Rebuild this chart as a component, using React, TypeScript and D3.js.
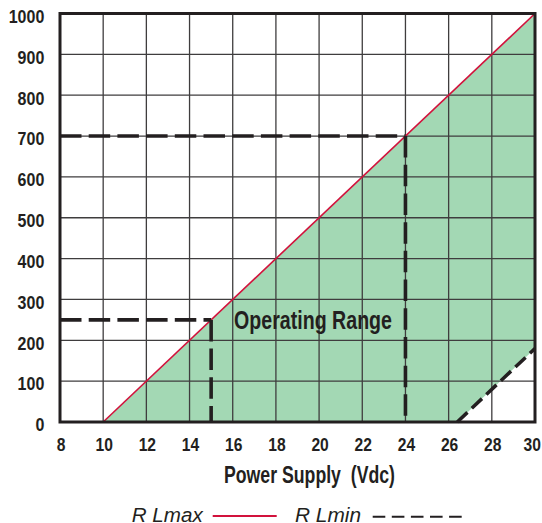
import React from "react";
import * as d3 from "d3";

const xTicks = [8, 10, 12, 14, 16, 18, 20, 22, 24, 26, 28, 30];
const yTicks = [0, 100, 200, 300, 400, 500, 600, 700, 800, 900, 1000];
const rlMax = [
  { v: 10, r: 0 },
  { v: 30, r: 1000 },
];
const rlMin = [
  { v: 26.4, r: 0 },
  { v: 30, r: 180 },
];
const operatingPoints = [
  { v: 15, r: 250 },
  { v: 24, r: 700 },
];
const xTitle = "Power Supply  (Vdc)";
const regionLabel = "Operating Range";
const legendLabels = ["R Lmax", "R Lmin"];

const W = 542;
const H = 523;
const L = 60,
  R = 535,
  T = 13.5,
  B = 422;
const INK = "#231f20";
const RED = "#d2123c";
const GREEN = "#a3d8b4";

export default function App() {
  const x = d3.scaleLinear().domain([8, 30]).range([L, R]);
  const y = d3.scaleLinear().domain([0, 1000]).range([B, T]);

  const poly = [
    [x(rlMax[0].v), y(rlMax[0].r)],
    [x(rlMax[1].v), y(rlMax[1].r)],
    [x(rlMin[1].v), y(rlMin[1].r)],
    [x(rlMin[0].v), y(rlMin[0].r)],
  ];
  const line = d3
    .line<{ v: number; r: number }>()
    .x((d) => x(d.v))
    .y((d) => y(d.r));

  const font = "'Liberation Sans', Arial, Helvetica, sans-serif";

  return (
    <svg
      width={W}
      height={H}
      style={{ position: "absolute", left: 0, top: 0, background: "#fff" }}
      fontFamily={font}
    >
      <polygon points={poly.map((p) => p.join(",")).join(" ")} fill={GREEN} />
      {/* grid */}
      {xTicks.map((t) => (
        <line
          key={"gx" + t}
          x1={x(t)}
          x2={x(t)}
          y1={T}
          y2={B}
          stroke="#3f3d3e"
          strokeWidth={1.3}
        />
      ))}
      {yTicks.map((t) => (
        <line
          key={"gy" + t}
          x1={L}
          x2={R}
          y1={y(t)}
          y2={y(t)}
          stroke="#3f3d3e"
          strokeWidth={1.3}
        />
      ))}
      {/* RL max */}
      <path d={line(rlMax) || ""} stroke={RED} strokeWidth={1.6} fill="none" />
      {/* RL min */}
      <path
        d={line(rlMin) || ""}
        stroke={INK}
        strokeWidth={3.5}
        strokeDasharray="14 6"
        fill="none"
      />
      {/* operating points dashed guides */}
      {operatingPoints.map((p, i) => (
        <g key={"op" + i}>
          <line
            x1={x(8)}
            x2={x(p.v)}
            y1={y(p.r)}
            y2={y(p.r)}
            stroke={INK}
            strokeWidth={3.6}
            strokeDasharray="21.5 7.2"
          />
          <line
            x1={x(p.v)}
            x2={x(p.v)}
            y1={y(p.r)}
            y2={y(0)}
            stroke={INK}
            strokeWidth={3.6}
            strokeDasharray="21.5 7.2"
          />
        </g>
      ))}
      {/* border */}
      <rect
        x={L}
        y={T}
        width={R - L}
        height={B - T}
        fill="none"
        stroke={INK}
        strokeWidth={3}
      />
      {/* y tick labels */}
      {yTicks.map((t) => {
        const s = String(t);
        return (
          <text
            key={"yl" + t}
            x={44.3}
            y={y(t) + 9.3}
            textAnchor="end"
            fontWeight="bold"
            fontSize={18}
            fill={INK}
            textLength={s.length * 8.9}
            lengthAdjust="spacingAndGlyphs"
          >
            {s}
          </text>
        );
      })}
      {/* x tick labels */}
      {xTicks.map((t) => {
        const s = String(t);
        const w = s.length * 8.7;
        const cx = Math.min(x(t) + 1, W - 1 - w / 2);
        return (
          <text
            key={"xl" + t}
            x={cx}
            y={450.7}
            textAnchor="middle"
            fontWeight="bold"
            fontSize={18}
            fill={INK}
            textLength={w}
            lengthAdjust="spacingAndGlyphs"
          >
            {s}
          </text>
        );
      })}
      {/* x title */}
      <text
        x={224}
        y={483.3}
        fontWeight="bold"
        fontSize={24}
        fill={INK}
        textLength={171}
        lengthAdjust="spacingAndGlyphs"
        style={{ whiteSpace: "pre" }}
      >
        {xTitle}
      </text>
      {/* region label */}
      <text
        x={234}
        y={329.3}
        fontWeight="bold"
        fontSize={25}
        fill={INK}
        textLength={158}
        lengthAdjust="spacingAndGlyphs"
      >
        {regionLabel}
      </text>
      {/* legend */}
      <text
        x={131.7}
        y={521.7}
        fontStyle="italic"
        fontSize={20}
        fill={INK}
        textLength={71}
        lengthAdjust="spacingAndGlyphs"
      >
        {legendLabels[0]}
      </text>
      <line x1={212.7} x2={276.7} y1={516} y2={516} stroke={RED} strokeWidth={2.2} />
      <text
        x={295}
        y={521.7}
        fontStyle="italic"
        fontSize={20}
        fill={INK}
        textLength={66}
        lengthAdjust="spacingAndGlyphs"
      >
        {legendLabels[1]}
      </text>
      <line
        x1={372.7}
        x2={461.7}
        y1={516.7}
        y2={516.7}
        stroke={INK}
        strokeWidth={2}
        strokeDasharray="12.6 6.5"
      />
    </svg>
  );
}
